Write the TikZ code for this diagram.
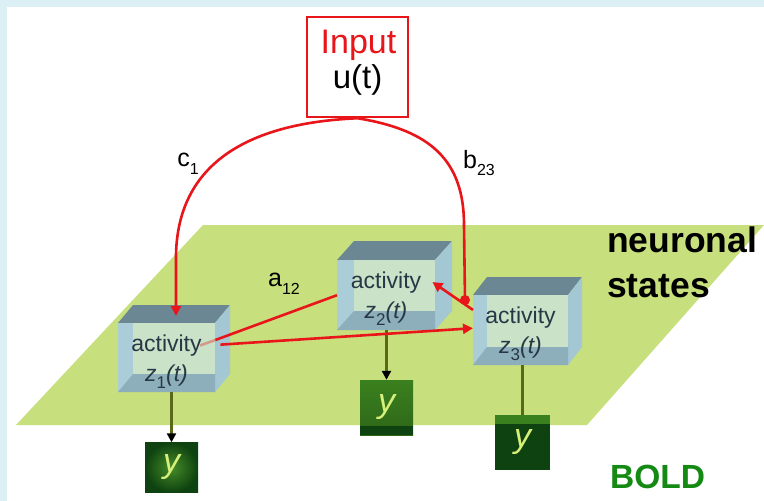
\documentclass[tikz,border=0pt]{standalone}
\usepackage{fontspec}
\setmainfont{Liberation Sans}
\usetikzlibrary{arrows.meta}
\definecolor{frameblue}{RGB}{220,239,244}
\definecolor{planegreen}{RGB}{200,223,125}
\definecolor{topface}{RGB}{107,135,147}
\definecolor{sideface}{RGB}{163,199,211}
\definecolor{leftstrip}{RGB}{170,205,216}
\definecolor{backface}{RGB}{201,226,200}
\definecolor{bottomface}{RGB}{141,174,187}
\definecolor{boxtext}{RGB}{40,55,70}
\definecolor{redline}{RGB}{232,22,27}
\definecolor{oliveline}{RGB}{90,105,25}
\definecolor{ylight}{RGB}{70,140,40}
\definecolor{ymid}{RGB}{58,128,30}
\definecolor{ydark}{RGB}{14,66,16}
\definecolor{ytext}{RGB}{214,240,122}
\definecolor{boldgreen}{RGB}{20,138,20}
\newcommand\lsub[2]{\raisebox{-0.3em}{\fontsize{#1}{#1}\selectfont #2}}
% name, x1, y1, x2, y2, depth-x, depth-y, index
\newcommand\glassbox[8]{%
  \fill[topface] (#2,#3) -- ({#2+#6},{#3-#7}) -- ({#4+#6},{#3-#7}) -- (#4,#3) -- cycle;
  \fill[sideface] (#4,#3) -- ({#4+#6},{#3-#7}) -- ({#4+#6},{#5-#7}) -- (#4,#5) -- cycle;
  \fill[leftstrip] (#2,#3) rectangle (#4,#5);
  \fill[backface] ({#2+#6},#3) rectangle (#4,{#5-#7});
  \fill[bottomface] (#2,#5) -- ({#2+#6},{#5-#7}) -- (#4,{#5-#7}) -- (#4,#5) -- cycle;
  \node[inner sep=0, minimum width={(#4-#2)*1pt}, minimum height={(#5-#3)*1pt}, anchor=north west] (#1) at (#2,#3) {};
  \node[inner sep=0, font=\fontsize{23}{30}\selectfont, text=boxtext, align=center] (#1t) at ({(#2+#4)/2}, {(#3+#5)/2+4}) {activity\\\textit{z}\lsub{17}{#8}\textit{(t)}};
}
\tikzset{
  redl/.style={draw=redline, line width=2.6pt},
  redarrow/.style={redl, -{Triangle[length=10pt,width=10pt]}},
  conn/.style={draw=oliveline, line width=2.5pt},
  connarrow/.style={conn, -{Triangle[length=9pt,width=9pt,color=black]}},
  ybox/.style={inner sep=0, minimum width=53pt, text=ytext, font=\fontsize{34}{34}\selectfont\itshape},
  lbl/.style={inner sep=0, font=\fontsize{25}{25}\selectfont},
}
\begin{document}
\begin{tikzpicture}[x=1pt,y=-1pt]
\useasboundingbox (0,0) rectangle (764,501);
% frame
\fill[frameblue] (0,0) rectangle (764,501);
\fill[white] (7,7) rectangle (764,501);
% plane
\fill[planegreen] (16,425) -- (203,225) -- (764,225) -- (587,425) -- cycle;
% boxes
\glassbox{b1}{118}{323}{215}{392}{15}{18}{1}
\glassbox{b2}{337}{260}{435}{330}{17}{19}{2}
\glassbox{b3}{473}{295}{568}{365}{14}{18}{3}
% BOLD boxes
\node[ybox, minimum height=50pt, shading=radial, inner color=ylight, outer color=ydark] (y1) at (171.5,467.5) {y};
\node[ybox, minimum height=55pt, top color=ymid, bottom color=ymid!80!black,
  path picture={\fill[ydark] (path picture bounding box.south west) rectangle ([yshift=9pt]path picture bounding box.south east);}] (y2) at (386.5,407.5) {y};
\node[ybox, minimum width=55pt, minimum height=55pt, fill=ydark,
  path picture={\fill[ymid] (path picture bounding box.north west) rectangle ([yshift=-9pt]path picture bounding box.north east);}] (y3) at (522.5,442.5) {y};
% connectors to BOLD
\draw[connarrow] (b1.south -| y1.north) -- (y1.north);
\draw[connarrow] (b2.south -| y2.north) -- (y2.north);
\draw[conn] (b3.south -| y3.north) -- (y3.north);
% input
\node[draw=redline, line width=2.5pt, minimum width=101pt, minimum height=100pt, inner sep=0] (inp) at (357.5,67) {};
\node[inner sep=0, anchor=base, text=redline, font=\fontsize{34}{34}\selectfont] (inptxt) at (358.5,53) {Input};
\node[inner sep=0, anchor=base, font=\fontsize{33}{33}\selectfont] (uttxt) at (357.5,88) {u(t)};
% red connections
\coordinate (c1end) at (176,316);
\coordinate (dot) at (465,300);
\coordinate (a12in) at (200,345.5);
\draw[redarrow] (inp.south) .. controls (270,122) and (178,150) .. (176,255) -- (c1end);
\draw[redl] (inp.south) .. controls (430,130) and (464,160) .. (464,225) -- (dot);
\draw[redl, opacity=0.35] (a12in) -- (b1.20);
\draw[redl] (b1.20) -- (b2.west);
\draw[redarrow] ([xshift=5pt]b1.15) -- ([yshift=2pt]b3.west);
\draw[redarrow] (b3.157) -- ([xshift=-3pt]b2.15);
\fill[redline] (dot) circle (5pt);
% labels
\node[lbl] (c1) at (188,164) {c\lsub{16}{1}};
\node[lbl] (a12) at (284,284) {a\lsub{16}{12}};
\node[lbl] (b23) at (479,163) {b\lsub{16}{23}};
\node[inner sep=0, anchor=base west, font=\fontsize{35.5}{35.5}\selectfont\bfseries] (neur) at (607,252) {neuronal};
\node[inner sep=0, anchor=base west, font=\fontsize{35.5}{35.5}\selectfont\bfseries] (stat) at (607,297) {states};
\node[inner sep=0, anchor=base west, text=boldgreen, font=\fontsize{33.5}{33.5}\selectfont\bfseries] (boldlbl) at (610,488) {BOLD};
\end{tikzpicture}
\end{document}
